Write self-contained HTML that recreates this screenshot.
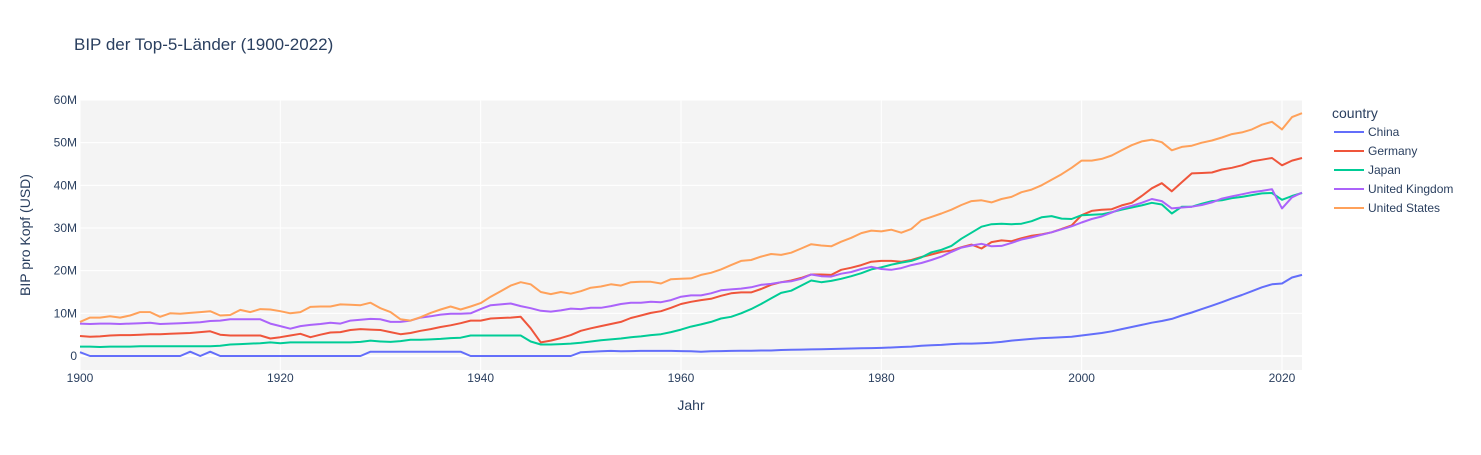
<!DOCTYPE html>
<html><head><meta charset="utf-8"><style>
body{margin:0;background:#fff;}
svg text{font-family:"Liberation Sans",Arial,sans-serif;fill:#2a3f5f;}
</style></head><body>
<svg id="chart" width="1481" height="450" xmlns="http://www.w3.org/2000/svg">
<rect width="1481" height="450" fill="#fff"/>
<text x="74" y="50" font-size="17">BIP der Top-5-Länder (1900-2022)</text>
<rect x="80" y="100" width="1222" height="270" fill="#f4f4f4"/>
<g id="grid"></g><g id="lines"></g><g id="ticks"></g>
<text x="691" y="410" font-size="14" text-anchor="middle">Jahr</text>
<text transform="translate(30,235) rotate(-90)" font-size="14" text-anchor="middle">BIP pro Kopf (USD)</text>
<text x="1332" y="118" font-size="14">country</text>
<g id="legend"></g>
</svg>
<script>
const years=[];for(let y=1900;y<=2022;y++)years.push(y);
const xTicks=[1900,1920,1940,1960,1980,2000,2020];
const yTicks=[0,10,20,30,40,50,60];
const yTickLabels=["0","10M","20M","30M","40M","50M","60M"];
const seriesNames=["China","Germany","Japan","United Kingdom","United States"];
const seriesColors=["#636efa","#EF553B","#00cc96","#ab63fa","#FFA15A"];
const china=[0.9,0,0,0,0,0,0,0,0,0,0,1.0,0,1.0,0,0,0,0,0,0,0,0,0,0,0,0,0,0,0,1.0,1.0,1.0,1.0,1.0,1.0,1.0,1.0,1.0,1.0,0,0,0,0,0,0,0,0,0,0,0,0.9,1.0,1.1,1.2,1.1,1.15,1.2,1.2,1.2,1.2,1.15,1.1,1.0,1.1,1.15,1.2,1.25,1.25,1.3,1.3,1.4,1.45,1.5,1.55,1.6,1.65,1.7,1.75,1.8,1.85,1.9,2.0,2.1,2.2,2.4,2.5,2.6,2.8,2.9,2.9,3.0,3.1,3.3,3.6,3.8,4.0,4.2,4.3,4.4,4.5,4.8,5.1,5.4,5.8,6.3,6.8,7.3,7.8,8.2,8.7,9.5,10.2,11.0,11.8,12.6,13.5,14.3,15.2,16.1,16.8,17.0,18.4,19.0];
const germany=[4.7,4.5,4.6,4.8,4.9,4.9,5.0,5.1,5.1,5.2,5.3,5.4,5.6,5.8,5.0,4.8,4.8,4.8,4.8,4.1,4.4,4.8,5.2,4.4,5.0,5.5,5.6,6.1,6.3,6.2,6.1,5.6,5.1,5.4,5.9,6.3,6.8,7.2,7.7,8.3,8.3,8.8,8.9,9.0,9.2,6.5,3.2,3.6,4.2,4.9,5.9,6.5,7.0,7.5,8.0,8.9,9.5,10.1,10.5,11.3,12.2,12.7,13.1,13.4,14.1,14.7,14.9,14.9,15.7,16.7,17.3,17.7,18.3,19.1,19.1,19.0,20.2,20.7,21.3,22.1,22.3,22.3,22.1,22.5,23.2,23.8,24.4,24.7,25.5,26.1,25.2,26.7,27.1,26.9,27.6,28.2,28.5,29.0,29.8,30.6,33.0,34.0,34.3,34.4,35.3,35.9,37.5,39.3,40.5,38.6,40.7,42.8,42.9,43.0,43.7,44.1,44.7,45.6,46.0,46.4,44.7,45.8,46.4];
const japan=[2.2,2.2,2.1,2.2,2.2,2.2,2.3,2.3,2.3,2.3,2.3,2.3,2.3,2.3,2.4,2.7,2.8,2.9,3.0,3.2,3.0,3.2,3.2,3.2,3.2,3.2,3.2,3.2,3.3,3.6,3.4,3.3,3.5,3.8,3.8,3.9,4.0,4.2,4.3,4.8,4.8,4.8,4.8,4.8,4.8,3.4,2.7,2.7,2.8,2.9,3.1,3.4,3.7,3.9,4.1,4.4,4.6,4.9,5.1,5.6,6.2,6.9,7.4,8.0,8.8,9.2,10.0,11.0,12.2,13.5,14.8,15.3,16.5,17.7,17.3,17.6,18.1,18.7,19.4,20.3,20.8,21.4,21.9,22.3,23.1,24.3,24.9,25.8,27.5,28.9,30.3,30.9,31.0,30.9,31.0,31.6,32.5,32.8,32.2,32.1,33.0,33.1,33.2,33.7,34.3,34.8,35.3,35.9,35.5,33.4,35.0,35.0,35.7,36.3,36.5,37.0,37.3,37.7,38.1,38.2,36.6,37.5,38.2];
const uk=[7.6,7.5,7.6,7.6,7.5,7.6,7.7,7.8,7.5,7.6,7.7,7.8,7.9,8.2,8.3,8.6,8.6,8.6,8.6,7.6,7.0,6.4,7.0,7.3,7.5,7.8,7.6,8.3,8.5,8.7,8.6,8.0,8.0,8.3,9.0,9.3,9.7,9.9,9.9,10.0,11.0,11.9,12.1,12.3,11.7,11.2,10.6,10.4,10.7,11.1,11.0,11.3,11.3,11.7,12.2,12.5,12.5,12.7,12.6,13.1,13.9,14.2,14.2,14.7,15.4,15.6,15.8,16.1,16.7,16.9,17.3,17.5,18.1,19.1,18.7,18.6,19.3,19.7,20.4,20.9,20.4,20.2,20.6,21.3,21.8,22.5,23.3,24.4,25.4,25.9,26.3,25.7,25.8,26.5,27.3,27.8,28.4,29.0,29.7,30.4,31.3,32.1,32.7,33.6,34.6,35.2,35.9,36.8,36.3,34.6,34.8,35.0,35.4,36.0,36.9,37.4,37.9,38.4,38.7,39.1,34.6,37.2,38.3];
const us=[8.0,9.0,9.0,9.3,9.0,9.5,10.3,10.3,9.2,10.0,9.9,10.1,10.3,10.5,9.5,9.6,10.8,10.3,11.0,10.9,10.5,10.0,10.3,11.5,11.6,11.6,12.1,12.0,11.9,12.5,11.2,10.3,8.6,8.3,9.1,10.1,10.9,11.6,10.9,11.6,12.4,13.9,15.2,16.5,17.3,16.8,15.0,14.5,15.0,14.6,15.2,16.0,16.3,16.8,16.5,17.3,17.4,17.4,17.0,18.0,18.1,18.2,19.0,19.5,20.3,21.3,22.3,22.5,23.3,23.9,23.7,24.2,25.2,26.2,25.9,25.7,26.8,27.7,28.8,29.4,29.2,29.6,28.9,29.8,31.8,32.6,33.4,34.3,35.4,36.3,36.5,36.0,36.8,37.3,38.4,39.0,40.0,41.3,42.6,44.1,45.8,45.8,46.2,47.0,48.2,49.4,50.3,50.7,50.1,48.2,49.0,49.3,50.0,50.5,51.2,52.0,52.4,53.1,54.2,54.9,53.1,56.0,56.9];
const allSeries=[china,germany,japan,uk,us];
const X0=80,X1=1302,Y0=370,Y1=100,xmin=1900,xmax=2022,ymin=-3.28,ymax=60;
const xs=v=>X0+(v-xmin)/(xmax-xmin)*(X1-X0);
const ys=v=>Y0-(v-ymin)/(ymax-ymin)*(Y0-Y1);
const NS="http://www.w3.org/2000/svg";
function mk(tag,attrs,parent,txt){const e=document.createElementNS(NS,tag);for(const k in attrs)e.setAttribute(k,attrs[k]);if(txt!==undefined)e.textContent=txt;parent.appendChild(e);return e;}
const grid=document.getElementById('grid'),ticks=document.getElementById('ticks'),lines=document.getElementById('lines'),legend=document.getElementById('legend');
xTicks.forEach(t=>{
 const g=mk('line',{x1:xs(t),x2:xs(t),y1:Y1,y2:Y0,stroke:'#fff','stroke-width':1},grid);
 
 
 const l=mk('text',{x:xs(t),y:Y0+12,'font-size':12,'text-anchor':'middle'},ticks,String(t));
 
 
});
yTicks.forEach((t,i)=>{
 const g=mk('line',{x1:X0,x2:X1,y1:ys(t),y2:ys(t),stroke:'#fff','stroke-width':t===0?2:1},grid);
 
 
 const l=mk('text',{x:X0-3,y:ys(t)+4,'font-size':12,'text-anchor':'end'},ticks,yTickLabels[i]);
 
 
});
allSeries.forEach((s,i)=>{
 const d=s.map((v,j)=>(j?'L':'M')+xs(years[j]).toFixed(1)+','+ys(v).toFixed(1)).join('');
 const p=mk('path',{d:d,fill:'none',stroke:seriesColors[i],'stroke-width':2,'stroke-linejoin':'round'},lines);
 
 
 const ly=132+i*19;
 const g=mk('g',{},legend);
 
 
 mk('line',{x1:1334,x2:1364,y1:ly,y2:ly,stroke:seriesColors[i],'stroke-width':2},g);
 mk('text',{x:1368,y:ly+4,'font-size':12},g,seriesNames[i]);
});
</script>
</body></html>
